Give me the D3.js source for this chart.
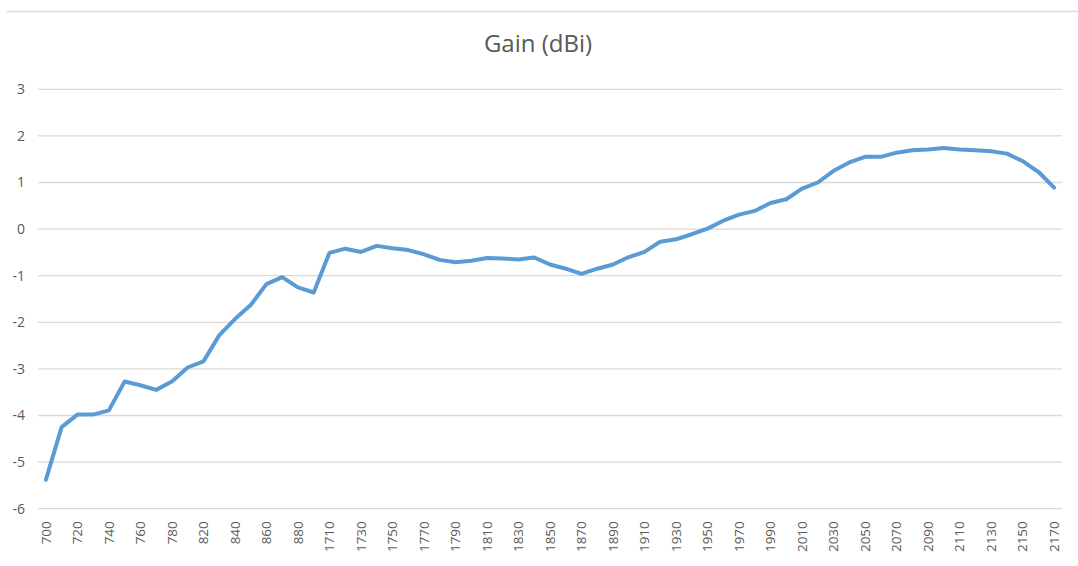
<!DOCTYPE html>
<html>
<head>
<meta charset="utf-8">
<script src="https://cdn.jsdelivr.net/npm/d3@7"></script>
<style>
  html, body { margin: 0; padding: 0; background: #fff; }
  svg { display: block; }
</style>
</head>
<body>
<svg id="chart" width="1078" height="566"></svg>
<script>
const title = "Gain (dBi)";
const categories = [
  "700","710","720","730","740","750","760","770","780","800",
  "820","830","840","850","860","870","880","890",
  "1710","1720","1730","1740","1750","1760","1770","1780","1790","1800",
  "1810","1820","1830","1840","1850","1860","1870","1880","1890","1900",
  "1910","1920","1930","1940","1950","1960","1970","1980","1990","2000",
  "2010","2020","2030","2040","2050","2060","2070","2080","2090","2100",
  "2110","2120","2130","2140","2150","2160","2170"
];
const gain = [
  -5.38,-4.25,-3.98,-3.98,-3.89,-3.27,-3.35,-3.45,-3.27,-2.97,
  -2.84,-2.28,-1.93,-1.63,-1.18,-1.03,-1.25,-1.36,
  -0.51,-0.42,-0.49,-0.36,-0.41,-0.45,-0.54,-0.66,-0.71,-0.68,
  -0.62,-0.63,-0.65,-0.61,-0.76,-0.85,-0.96,-0.85,-0.76,-0.60,
  -0.49,-0.27,-0.22,-0.11,0.01,0.18,0.31,0.39,0.56,0.64,
  0.87,1.00,1.25,1.43,1.55,1.55,1.64,1.69,1.71,1.74,
  1.71,1.69,1.67,1.62,1.46,1.23,0.89
];
const yTicks = [3,2,1,0,-1,-2,-3,-4,-5,-6];

(function () {
const svg = d3.select("#chart");
const W = 1078;
const plotLeft = 38, plotRight = 1062, plotTop = 89.3, plotBottom = 508.7;
const font = "'Open Sans', 'Liberation Sans', sans-serif";
const textColor = "#595959";

// top border line
svg.append("line")
  .attr("x1", 7).attr("x2", W).attr("y1", 11.5).attr("y2", 11.5)
  .attr("stroke", "#d9d9d9").attr("stroke-width", 1.5);

const x = d3.scaleBand().domain(categories).range([plotLeft, plotRight]).paddingInner(0).paddingOuter(0);
const y = d3.scaleLinear().domain([-6, 3]).range([plotBottom, plotTop]);

// gridlines
svg.append("g").selectAll("line").data(yTicks).join("line")
  .attr("x1", plotLeft).attr("x2", plotRight)
  .attr("y1", d => y(d)).attr("y2", d => y(d))
  .attr("stroke", "#d9d9d9").attr("stroke-width", 1.3);

// y axis labels
const yAxis = d3.axisLeft(y).tickValues(yTicks).tickSize(0).tickPadding(0).tickFormat(d3.format("d"));
const gy = svg.append("g").attr("transform", `translate(25,0)`).call(yAxis);
gy.select(".domain").remove();
gy.selectAll("text").attr("font-family", font).attr("font-size", 14).attr("fill", textColor)
  .text(d => d < 0 ? "-" + Math.abs(d) : d);

// x axis labels (every other category)
const xAxis = d3.axisBottom(x)
  .tickValues(categories.filter((d, i) => i % 2 === 0))
  .tickSize(0).tickPadding(0);
const gx = svg.append("g").attr("transform", `translate(0,${plotBottom})`).call(xAxis);
gx.select(".domain").remove();
gx.selectAll("text")
  .attr("font-family", font).attr("font-size", 13.5).attr("fill", textColor)
  .attr("text-anchor", "end")
  .attr("dy", "0.35em")
  .attr("transform", "translate(0,12.5) rotate(-90)")
  .attr("x", 0).attr("y", 0);

// line
const line = d3.line()
  .x((d, i) => x(categories[i]) + x.bandwidth() / 2)
  .y(d => y(d));
svg.append("path").datum(gain)
  .attr("d", line)
  .attr("fill", "none")
  .attr("stroke", "#5b9bd5")
  .attr("stroke-width", 4)
  .attr("stroke-linejoin", "round")
  .attr("stroke-linecap", "round");

// title
svg.append("text")
  .attr("x", 538).attr("y", 52)
  .attr("text-anchor", "middle")
  .attr("font-family", font).attr("font-size", 24).attr("fill", textColor)
  .text(title);
})();
</script>
</body>
</html>
